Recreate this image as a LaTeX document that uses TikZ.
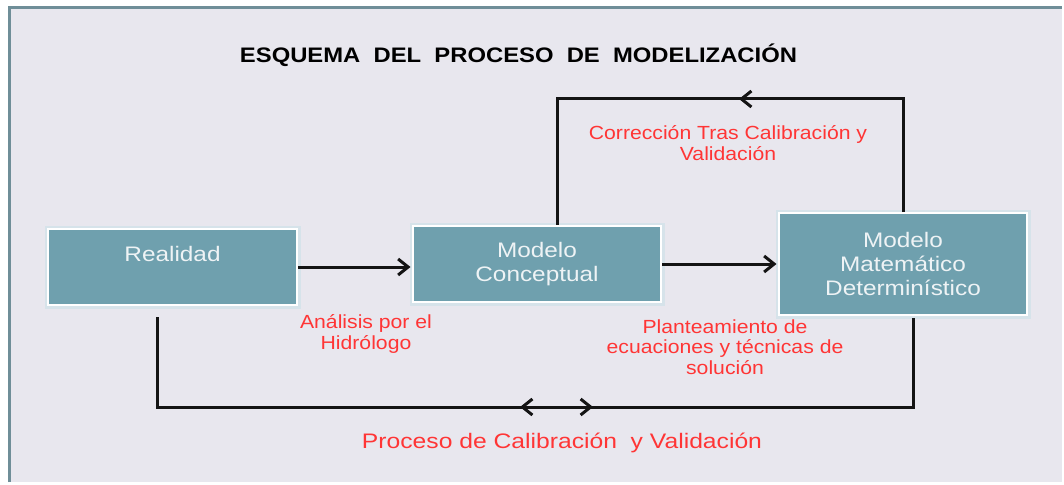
\documentclass[tikz,border=0pt]{standalone}
\usepackage{fontspec}
\setmainfont{Liberation Sans}
\newfontfamily\titlefont[FakeStretch=1.134]{Liberation Sans Bold}
\newfontfamily\boxfont[FakeStretch=1.16]{Liberation Sans}
\newfontfamily\redfont[FakeStretch=1.115]{Liberation Sans}
\newfontfamily\bigredfont[FakeStretch=1.175]{Liberation Sans}
\usetikzlibrary{arrows.meta}
\definecolor{bgc}{HTML}{E8E7EE}
\definecolor{framec}{HTML}{6F8E98}
\definecolor{boxc}{HTML}{6FA0AE}
\definecolor{glowc}{HTML}{D6E3EA}
\definecolor{redc}{HTML}{FF3535}
\definecolor{boxtxt}{HTML}{EEF3F5}
\definecolor{linec}{HTML}{141414}
\begin{document}
\begin{tikzpicture}[x=1pt,y=-1pt,
  box/.style={draw=white, line width=2pt, fill=boxc,
    preaction={draw=glowc, line width=7pt},
    inner sep=0pt, text=boxtxt, align=center,
    font=\boxfont\fontsize{21}{24}\selectfont},
  conn/.style={line width=3pt, draw=linec},
  barb/.tip={Straight Barb[length=10pt,width=16pt]},
  redlabel/.style={text=redc, align=center, inner sep=0pt,
    font=\redfont\fontsize{19}{20.5}\selectfont},
  titlelabel/.style={text=black, inner sep=0pt,
    font=\titlefont\fontsize{21}{24}\selectfont},
  bigred/.style={text=redc, inner sep=0pt,
    font=\bigredfont\fontsize{21}{24}\selectfont},
]
\useasboundingbox (0,0) rectangle (1064,484);
\fill[white] (0,0) rectangle (1064,484);
\fill[bgc] (9,7.5) rectangle (1062,482);
\draw[framec, line width=3pt] (9,482) -- (9,7.5) -- (1062,7.5);

\node[titlelabel] (title) at (518.5,55) {ESQUEMA\ \ DEL\ \ PROCESO\ \ DE\ \ MODELIZACIÓN};

\node[box, minimum width=249pt, minimum height=76pt, text depth=26pt] (real) at (172.5,267) {Realidad};
\node[box, minimum width=248pt, minimum height=76pt] (conc) at (537,264) {Modelo\\Conceptual};
\node[box, minimum width=248pt, minimum height=102pt] (mat) at (903,264) {Modelo\\Matemático\\Determinístico};

\draw[conn, -barb, shorten >=1.5pt] (real.east) -- (real.east -| conc.west);
\draw[conn, -barb, shorten >=1.5pt] (conc.east) -- (conc.east -| mat.west);

\coordinate (c1) at (557,99);
\coordinate (c2) at (903,99);
\coordinate (ctip) at (739,99);
\draw[conn] (mat.north) -- (c2) -- (c1) -- (conc.north -| c1);
\draw[conn, -barb] (c2) -- (ctip);

\coordinate (b1) at (157,407);
\coordinate (b2) at (913,407);
\coordinate (bl) at (520,407);
\coordinate (br) at (593,407);
\draw[conn, shorten <=11pt, shorten >=2pt] (real.south -| b1) -- (b1) -- (b2) -- (mat.south -| b2);
\draw[conn, barb-barb] (bl) -- (br);

\node[redlabel] (lab1) at (366,334) {Análisis por el\\Hidrólogo};
\node[redlabel] (lab2) at (725,347) {Planteamiento de\\ecuaciones y técnicas de\\solución};
\node[redlabel] (lab3) at (728,143) {Corrección Tras Calibración y\\Validación};
\node[bigred] (lab4) at (562,443) {Proceso de Calibración\ \ y Validación};
\end{tikzpicture}
\end{document}
